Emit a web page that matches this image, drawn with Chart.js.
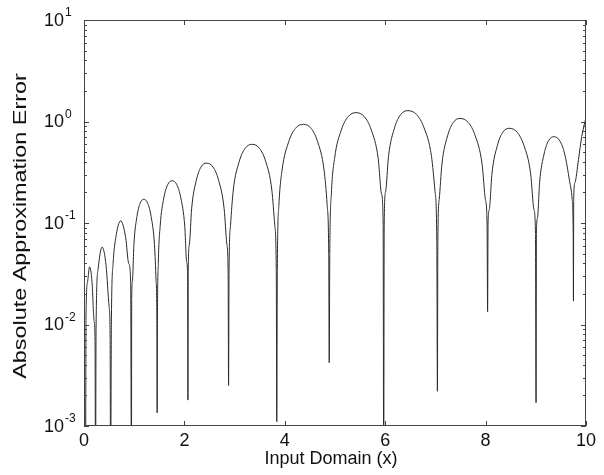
<!DOCTYPE html>
<html>
<head>
<meta charset="utf-8">
<script src="https://cdn.jsdelivr.net/npm/chart.js@4"></script>
<style>
  body { margin: 0; background: #fff; }
  #wrap { width: 604px; height: 475px; }
</style>
</head>
<body>
<div id="wrap"><canvas id="myChart" width="604" height="475"></canvas></div>
<script>
// values
const errX = [
  0, 0.03, 0.04, 0.07, 0.11, 0.16, 0.2, 0.22, 0.23,
  0.24, 0.28, 0.36, 0.44, 0.5, 0.52, 0.53,
  0.545, 0.58, 0.63, 0.73, 0.83, 0.89, 0.93, 0.945,
  0.95, 0.965, 0.994, 1.055, 1.117, 1.19, 1.27, 1.337, 1.404, 1.436, 1.452, 1.457,
  1.463, 1.481, 1.517, 1.591, 1.666, 1.755, 1.85, 1.928, 2.007, 2.045, 2.064, 2.07,
  2.076, 2.1, 2.144, 2.237, 2.329, 2.44, 2.572, 2.682, 2.792, 2.845, 2.871, 2.88,
  2.889, 2.918, 2.974, 3.092, 3.209, 3.35, 3.497, 3.62, 3.742, 3.801, 3.83, 3.84,
  3.851, 3.882, 3.946, 4.079, 4.211, 4.37, 4.525, 4.653, 4.782, 4.844, 4.875, 4.885,
  4.896, 4.928, 4.992, 5.126, 5.26, 5.42, 5.585, 5.723, 5.86, 5.926, 5.959, 5.97,
  5.98, 6.008, 6.066, 6.186, 6.306, 6.45, 6.627, 6.775, 6.922, 6.993, 7.028, 7.04,
  7.049, 7.076, 7.13, 7.243, 7.355, 7.49, 7.655, 7.793, 7.93, 7.996, 8.029, 8.04,
  8.049, 8.074, 8.126, 8.234, 8.341, 8.47, 8.63, 8.764, 8.898, 8.962, 8.994, 9.005,
  9.012, 9.033, 9.076, 9.165, 9.254, 9.36, 9.477, 9.575, 9.672, 9.725, 9.745, 9.75,
  9.755, 9.78, 9.85, 9.915, 10
];
const errY = [
  0.017, 0.0002, 0.012, 0.026, 0.037, 0.026, 0.011, 0.007, 0.0002,
  0.009, 0.035, 0.058, 0.038, 0.015, 0.008, 0.0002,
  0.01, 0.04, 0.07, 0.105, 0.072, 0.04, 0.026, 0.0002,
  0.018, 0.027, 0.061, 0.116, 0.156, 0.171, 0.156, 0.116, 0.061, 0.027, 0.011, 0.00135,
  0.011, 0.041, 0.093, 0.177, 0.238, 0.261, 0.238, 0.177, 0.093, 0.041, 0.03, 0.0018,
  0.033, 0.062, 0.138, 0.263, 0.355, 0.389, 0.355, 0.263, 0.138, 0.062, 0.033, 0.0025,
  0.033, 0.094, 0.211, 0.403, 0.543, 0.596, 0.543, 0.403, 0.211, 0.094, 0.035, 0.0011,
  0.035, 0.149, 0.333, 0.634, 0.855, 0.938, 0.855, 0.634, 0.333, 0.149, 0.05, 0.0042,
  0.05, 0.194, 0.434, 0.826, 1.114, 1.222, 1.114, 0.826, 0.434, 0.194, 0.1, 0.0002,
  0.1, 0.203, 0.454, 0.865, 1.167, 1.279, 1.167, 0.865, 0.454, 0.203, 0.068, 0.0022,
  0.068, 0.17, 0.38, 0.724, 0.977, 1.072, 0.977, 0.724, 0.38, 0.17, 0.1, 0.0134,
  0.1, 0.136, 0.304, 0.579, 0.782, 0.857, 0.782, 0.579, 0.304, 0.136, 0.079, 0.0017,
  0.079, 0.112, 0.251, 0.479, 0.646, 0.708, 0.646, 0.479, 0.26, 0.17, 0.08, 0.017,
  0.17, 0.25, 0.42, 0.71, 1.1
];
const xTicks = [0, 2, 4, 6, 8, 10];
const yExponents = [-3, -2, -1, 0, 1];

const FONT = '"Liberation Sans", Arial, Helvetica, sans-serif';

// box, inward ticks and labels, matlab style
const axesPlugin = {
    id: 'axesBox',
    afterDraw(chart) {
        const ctx = chart.ctx;
        const xs = chart.scales.x;
        const ys = chart.scales.y;
        const a = chart.chartArea;
        ctx.save();
        ctx.strokeStyle = '#444';
        ctx.lineWidth = 1;
        ctx.strokeRect(a.left + 0.5, a.top + 0.5, a.right - a.left - 1, a.bottom - a.top - 1);

        ctx.beginPath();
        xTicks.forEach((v) => {
            const px = Math.round(xs.getPixelForValue(v)) + 0.5;
            ctx.moveTo(px, a.bottom); ctx.lineTo(px, a.bottom - 5);
            ctx.moveTo(px, a.top); ctx.lineTo(px, a.top + 5);
        });
        yExponents.forEach((e, i) => {
            for (let m = 1; m <= 9; m++) {
                if (m > 1 && i == yExponents.length - 1) break;
                const py = Math.round(ys.getPixelForValue(m * Math.pow(10, e))) + 0.5;
                const len = m == 1 ? 5 : 3;
                ctx.moveTo(a.left, py); ctx.lineTo(a.left + len, py);
                ctx.moveTo(a.right, py); ctx.lineTo(a.right - len, py);
            }
        });
        ctx.stroke();

        ctx.fillStyle = '#111';
        ctx.font = '18px ' + FONT;
        ctx.textAlign = 'center';
        ctx.textBaseline = 'top';
        xTicks.forEach((v) => {
            ctx.fillText(String(v), xs.getPixelForValue(v), a.bottom + 6);
        });

        yExponents.forEach((e) => {
            const py = ys.getPixelForValue(Math.pow(10, e));
            ctx.font = '18px ' + FONT;
            ctx.textAlign = 'right';
            ctx.textBaseline = 'middle';
            ctx.fillText('10', a.left - 20, py + 1);
            ctx.font = '12px ' + FONT;
            ctx.textAlign = 'left';
            ctx.fillText(String(e), a.left - 19, py - 7);
        });

        ctx.font = '18px ' + FONT;
        ctx.textAlign = 'center';
        ctx.textBaseline = 'top';
        ctx.fillText('Input Domain (x)', 331, 450);

        ctx.translate(21, 226);
        ctx.rotate(-Math.PI / 2);
        ctx.scale(1.3, 1);
        ctx.textBaseline = 'middle';
        ctx.fillText('Absolute Approximation Error', 0, 0);
        ctx.restore();
    }
};

function initChart(target) {
    const data = {
        datasets: [{
            label: 'error',
            data: errX.map((x, i) => ({ x: x, y: errY[i] })),
            borderColor: '#2a2a2a',
            borderWidth: 1,
            pointRadius: 0,
            cubicInterpolationMode: 'monotone',
            fill: false
        }]
    };

    const config = {
        type: 'line',
        data: data,
        options: {
            responsive: false,
            animation: false,
            devicePixelRatio: 1,
            layout: { padding: { left: 84, top: 20, right: 18, bottom: 49 } },
            plugins: { legend: { display: false }, tooltip: { enabled: false } },
            scales: {
                x: { type: 'linear', min: 0, max: 10, display: false },
                y: { type: 'logarithmic', min: 0.001, max: 10, display: false }
            }
        },
        plugins: [axesPlugin]
    };

    return new Chart(target, config);
}

initChart(document.querySelector('#myChart'));
</script>
</body>
</html>
